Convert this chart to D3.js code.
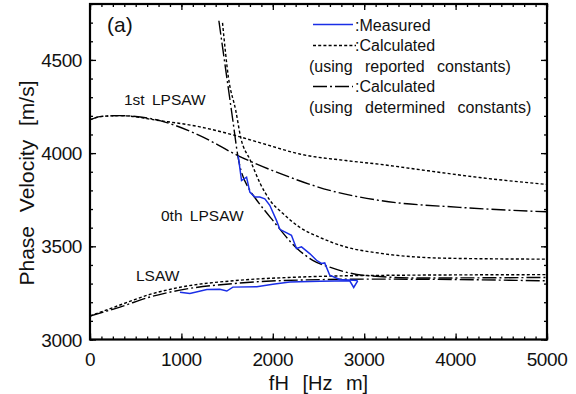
<!DOCTYPE html>
<html>
<head>
<meta charset="utf-8">
<script src="https://cdn.jsdelivr.net/npm/d3@7/dist/d3.min.js"></script>
<style>
  body { margin: 0; background: #fff; }
  text { font-family: "Liberation Sans", Arial, sans-serif; fill: #111; }
</style>
</head>
<body>
<div id="chart"></div>
<script>
// fH [Hz m] vs phase velocity [m/s]
const lsawReported = [[0,3126],[328,3185],[656,3242],[984,3280],[1639,3318],[2295,3335],[3169,3344],[4995,3348]];
const lsawDetermined = [[0,3126],[328,3174],[656,3228],[984,3265],[1639,3303],[2295,3319],[3169,3324],[4995,3315]];
const first1Reported = [[0,4178],[110,4196],[328,4201],[765,4174],[1202,4141],[1563,4098],[1934,4045],[2295,3995],[2800,3960],[3169,3940],[3700,3905],[4262,3869],[4995,3832]];
const first1Determined = [[0,4178],[110,4196],[328,4201],[765,4174],[1202,4094],[1617,3987],[2077,3891],[2623,3800],[3169,3746],[4044,3709],[4995,3685]];
const zeroReported = [[1450,4699],[1515,4405],[1595,4228],[1649,4084],[1755,3960],[1862,3837],[1970,3746],[2109,3677],[2295,3602],[2514,3548],[2809,3495],[3169,3463],[3902,3436],[4995,3431]];
const zeroDetermined = [[1410,4710],[1497,4405],[1563,4175],[1617,3987],[1749,3800],[1803,3762],[2000,3639],[2262,3490],[2437,3425],[2623,3388],[2984,3345],[3607,3330],[4995,3333]];
const measuredLsaw = [[984,3254],[1093,3247],[1279,3268],[1421,3269],[1497,3260],[1563,3281],[1825,3283],[2000,3297],[2186,3308],[2514,3313],[2842,3315],[2885,3279],[2929,3315]];
const measuredZero = [[1621,3987],[1658,3853],[1713,3871],[1749,3791],[1803,3764],[1858,3764],[1913,3755],[1967,3720],[2040,3639],[2077,3591],[2131,3577],[2204,3559],[2259,3488],[2314,3497],[2404,3461],[2478,3425],[2532,3408],[2568,3411],[2623,3345],[2732,3322],[2929,3317]];

const xTicks = [0, 1000, 2000, 3000, 4000, 5000];
const yTicks = [3000, 3500, 4000, 4500];

const W = 576, H = 394;
const margin = {top: 4, right: 29, bottom: 54.5, left: 90};
const width = W - margin.left - margin.right;
const height = H - margin.top - margin.bottom;

const svg = d3.select("#chart").append("svg")
    .attr("width", W).attr("height", H);
const g = svg.append("g")
    .attr("transform", "translate(" + margin.left + "," + margin.top + ")");

const x = d3.scaleLinear().domain([0, 5000]).range([0, width]);
const y = d3.scaleLinear().domain([3000, 4800]).range([height, 0]);

svg.append("defs").append("clipPath").attr("id", "plot")
    .append("rect").attr("width", width).attr("height", height);

// minor + major ticks, pointing inward on all four sides
const xMinor = d3.range(0, 5001, 125);
const yMinor = d3.range(3000, 4801, 100);
function tickAxis(axisFn, scale, values, size, tx, ty) {
    const a = g.append("g").attr("transform", "translate(" + tx + "," + ty + ")")
        .call(axisFn(scale).tickValues(values).tickSize(size).tickFormat(""));
    a.select(".domain").remove();
    a.selectAll("line").attr("stroke", "#000").attr("stroke-width", 1.3);
}
tickAxis(d3.axisBottom, x, xMinor, -3, 0, height);
tickAxis(d3.axisBottom, x, xTicks, -6, 0, height);
tickAxis(d3.axisTop, x, xMinor, -3, 0, 0);
tickAxis(d3.axisTop, x, xTicks, -6, 0, 0);
tickAxis(d3.axisLeft, y, yMinor, -3, 0, 0);
tickAxis(d3.axisLeft, y, yTicks, -6, 0, 0);
tickAxis(d3.axisRight, y, yMinor, -3, width, 0);
tickAxis(d3.axisRight, y, yTicks, -6, width, 0);

// tick labels
g.selectAll(".xl").data(xTicks).enter().append("text")
    .attr("x", d => x(d)).attr("y", height + 26)
    .attr("text-anchor", "middle").style("font-size", "19px").style("letter-spacing", "-0.4px")
    .text(d => d);
g.selectAll(".yl").data(yTicks).enter().append("text")
    .attr("x", -8).attr("y", d => y(d) + 7)
    .attr("text-anchor", "end").style("font-size", "19px").style("letter-spacing", "-0.4px")
    .text(d => d);

// axis titles
svg.append("text").attr("x", margin.left + width / 2).attr("y", 390)
    .attr("text-anchor", "middle").style("font-size", "20px").style("word-spacing", "8px")
    .text("fH [Hz m]");
svg.append("text").attr("transform", "translate(34,183) rotate(-90)")
    .attr("text-anchor", "middle").style("font-size", "21px").style("word-spacing", "8px")
    .text("Phase Velocity [m/s]");

const line = d3.line().x(d => x(d[0])).y(d => y(d[1]));
const smooth = d3.line().x(d => x(d[0])).y(d => y(d[1])).curve(d3.curveMonotoneX);

const DOT = "3,2.2", DASHDOT = "14,3,2,3";
const curves = g.append("g").attr("clip-path", "url(#plot)");
const calc = [
    [lsawReported, DOT], [lsawDetermined, DASHDOT],
    [first1Reported, DOT], [first1Determined, DASHDOT],
    [zeroReported, DOT], [zeroDetermined, DASHDOT]
];
curves.selectAll(".calc").data(calc).enter().append("path")
    .attr("d", d => smooth(d[0]))
    .attr("fill", "none").attr("stroke", "#000").attr("stroke-width", 1.4)
    .attr("stroke-dasharray", d => d[1]);
curves.selectAll(".meas").data([measuredLsaw, measuredZero]).enter().append("path")
    .attr("d", line)
    .attr("fill", "none").attr("stroke", "#1a2ee6").attr("stroke-width", 1.5);

// frame
g.append("rect").attr("width", width).attr("height", height)
    .attr("fill", "none").attr("stroke", "#000").attr("stroke-width", 2.2);

// in-plot labels
const labelStyle = sel => sel.style("font-size", "15.5px").style("word-spacing", "3px");
svg.append("text").attr("x", 107).attr("y", 32).style("font-size", "21px").text("(a)");
svg.append("text").attr("x", 124).attr("y", 105).call(labelStyle).text("1st LPSAW");
svg.append("text").attr("x", 161).attr("y", 221).call(labelStyle).text("0th LPSAW");
svg.append("text").attr("x", 136).attr("y", 281).call(labelStyle).text("LSAW");

// legend
const leg = svg.append("g");
leg.append("line").attr("x1", 313).attr("x2", 353).attr("y1", 24.5).attr("y2", 24.5)
    .attr("stroke", "#1a2ee6").attr("stroke-width", 1.5);
leg.append("line").attr("x1", 313).attr("x2", 356).attr("y1", 45.5).attr("y2", 45.5)
    .attr("stroke", "#000").attr("stroke-width", 1.4).attr("stroke-dasharray", DOT);
leg.append("line").attr("x1", 313).attr("x2", 353).attr("y1", 86.5).attr("y2", 86.5)
    .attr("stroke", "#000").attr("stroke-width", 1.4).attr("stroke-dasharray", DASHDOT);
const legText = [
    [355, 30.5, ":Measured"], [355, 51, ":Calculated"],
    [309, 71.5, "(using reported constants)"],
    [355, 92, ":Calculated"], [309, 112.5, "(using determined constants)"]
];
leg.selectAll("text").data(legText).enter().append("text")
    .attr("x", d => d[0]).attr("y", d => d[1])
    .style("font-size", "16px").style("word-spacing", "8px")
    .text(d => d[2]);
</script>
</body>
</html>
